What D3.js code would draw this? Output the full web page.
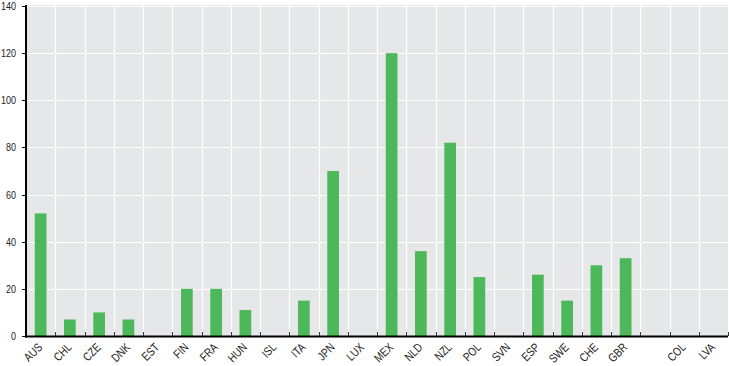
<!DOCTYPE html>
<html><head><meta charset="utf-8">
<script src="https://cdn.jsdelivr.net/npm/d3@7"></script>
<style>
body{margin:0;background:#fff;}
text{font-family:"Liberation Sans",Arial,sans-serif;fill:#222;}
</style></head><body>
<svg id="c" width="729" height="366"></svg>
<script>
const categories = ["AUS","CHL","CZE","DNK","EST","FIN","FRA","HUN","ISL","ITA","JPN","LUX","MEX","NLD","NZL","POL","SVN","ESP","SWE","CHE","GBR","","COL","LVA"];
const values = [52,7,10,7,0,20,20,11,0,15,70,0,120,36,82,25,0,26,15,30,33,null,0,0];
const yTicks = [0,20,40,60,80,100,120,140];

const svg = d3.select("#c");
const m = {left:26, right:1, top:6, bottom:30};
const W = 729, H = 366;
const x = d3.scaleBand().domain(d3.range(categories.length)).range([m.left, W - m.right]).paddingInner(0).paddingOuter(0);
const y = d3.scaleLinear().domain([0,140]).range([H - m.bottom, m.top]);

svg.append("rect").attr("x", m.left).attr("y", y(140)-1).attr("width", W - m.right - m.left).attr("height", y(0)-y(140)+1).attr("fill", "#e6e7e8");

// grid horizontal
svg.append("g").selectAll("line").data(yTicks.slice(1)).join("line")
  .attr("x1", m.left).attr("x2", W - m.right).attr("y1", d=>Math.round(y(d))+0.5).attr("y2", d=>Math.round(y(d))+0.5)
  .attr("stroke", "#fff").attr("stroke-width", 1.2);
// grid vertical at category boundaries
svg.append("g").selectAll("line").data(d3.range(1, categories.length)).join("line")
  .attr("x1", d=>Math.round(x(d))+0.5).attr("x2", d=>Math.round(x(d))+0.5).attr("y1", y(140)-1).attr("y2", y(0))
  .attr("stroke", "#fff").attr("stroke-width", 1.2);

// bars
const bw = x.bandwidth()*0.4;
svg.append("g").selectAll("rect").data(values.map((v,i)=>({v,i})).filter(d=>d.v)).join("rect")
  .attr("x", d=>x(d.i) + (x.bandwidth()-bw)/2).attr("width", bw)
  .attr("y", d=>y(d.v)).attr("height", d=>y(0)-y(d.v))
  .attr("fill", "#4db859");

// x axis
const xa = svg.append("g").attr("transform", `translate(0,${y(0)})`);
xa.append("line").attr("x1", m.left-1).attr("x2", W - m.right).attr("y1", 0.5).attr("y2", 0.5).attr("stroke", "#000").attr("stroke-width", 2);
xa.selectAll("line.tk").data(d3.range(1, categories.length+1)).join("line").attr("class","tk")
  .attr("x1", d=>Math.round(x(d) ?? (W-m.right))+0.5).attr("x2", d=>Math.round(x(d) ?? (W-m.right))+0.5)
  .attr("y1", -4).attr("y2", 0).attr("stroke", "#333").attr("stroke-width", 1);
xa.selectAll("text").data(categories.map((c,i)=>({c,i}))).join("text")
  .attr("transform", d=>`translate(${x(d.i)+x.bandwidth()/2+2.5},${12}) rotate(-45) scale(0.82,1)`)
  .attr("text-anchor", "end").attr("font-size", 12).text(d=>d.c);

// y axis
const ya = svg.append("g");
ya.append("line").attr("x1", m.left).attr("x2", m.left).attr("y1", y(140)-1).attr("y2", y(0)+1.5).attr("stroke", "#000").attr("stroke-width", 2);
ya.selectAll("line.tk").data(yTicks).join("line").attr("class","tk")
  .attr("x1", m.left-4).attr("x2", m.left).attr("y1", d=>Math.round(y(d))+0.5).attr("y2", d=>Math.round(y(d))+0.5)
  .attr("stroke", "#000");
ya.selectAll("text").data(yTicks).join("text")
  .attr("transform", d=>`translate(16,${y(d)+4}) scale(0.82,1)`)
  .attr("text-anchor", "end").attr("font-size", 11).text(d=>d);
</script></body></html>
